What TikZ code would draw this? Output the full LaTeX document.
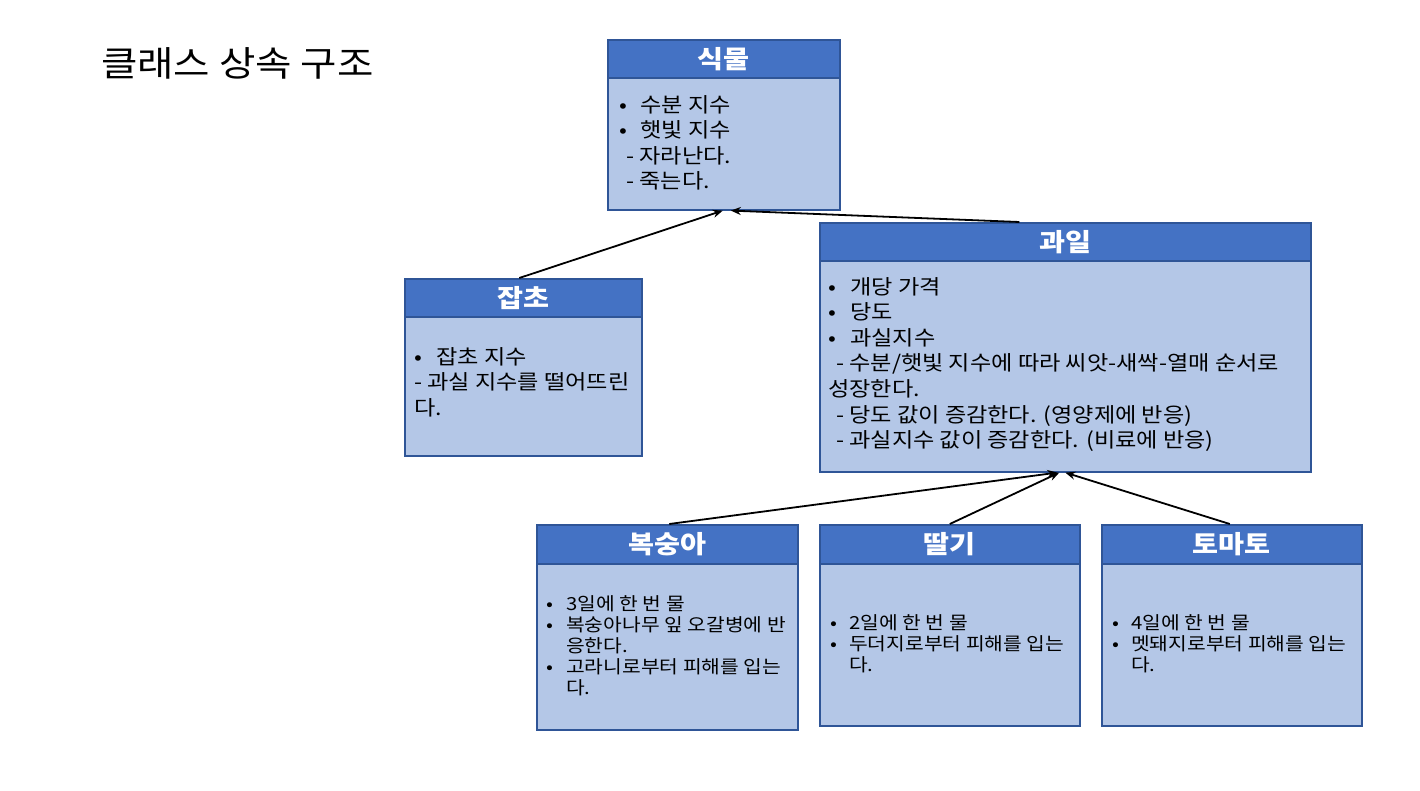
\documentclass[tikz,border=0pt]{standalone}
\usepackage{fontspec}
\setmainfont[FakeStretch=1.13]{Noto Sans CJK KR}
\usetikzlibrary{arrows.meta}
\definecolor{hdrblue}{HTML}{4472C4}
\definecolor{bodyblue}{HTML}{B4C7E7}
\definecolor{edgeblue}{HTML}{2F5597}
\newcommand\bitem[2]{\makebox[#1][l]{•}#2}
\tikzset{
  boxbody/.style={draw=edgeblue, line width=1.6pt, fill=bodyblue, anchor=north west, inner sep=0pt},
  boxhdr/.style={draw=edgeblue, line width=1.6pt, fill=hdrblue, anchor=north west, inner sep=0pt,
    text=white, font=\fontsize{25}{28}\selectfont\bfseries},
  bigtxt/.style={anchor=north west, inner sep=0pt, align=left, font=\fontsize{20.5}{25.6}\selectfont},
  smalltxt/.style={anchor=north west, inner sep=0pt, align=left, font=\fontsize{18}{21.2}\selectfont},
  conn/.style={draw=black, line width=1.8pt, -{Stealth[length=10pt,width=8pt]}},
}
\begin{document}
\begin{tikzpicture}[x=1pt,y=-1pt]
\useasboundingbox (0,0) rectangle (1420,791);
\fill[white] (0,0) rectangle (1420,791);

\node[anchor=west, inner sep=0pt, font=\fontsize{35}{40}\selectfont] (title) at (101,63) {클래스 상속 구조};

% Plant
\node[boxbody, minimum width=232pt, minimum height=170pt] (plant) at (607,39) {};
\node[boxhdr, minimum width=232pt, minimum height=38pt] (planth) at (607,39) {식물};
\node[bigtxt] (plantt) at (619,95) {\bitem{21pt}{수분 지수}\\\bitem{21pt}{햇빛 지수}\\\hspace*{7pt}- 자라난다.\\\hspace*{7pt}- 죽는다.};

% Weed
\node[boxbody, minimum width=237pt, minimum height=177pt] (weed) at (404,278) {};
\node[boxhdr, minimum width=237pt, minimum height=38pt] (weedh) at (404,278) {잡초};
\node[bigtxt] (weedt) at (414,347) {\bitem{22pt}{잡초 지수}\\- 과실 지수를 떨어뜨린\\다.};

% Fruit
\node[boxbody, minimum width=491pt, minimum height=249pt] (fruit) at (819,222) {};
\node[boxhdr, minimum width=491pt, minimum height=38pt] (fruith) at (819,222) {과일};
\node[bigtxt] (fruitt) at (828,277) {\bitem{22pt}{개당 가격}\\\bitem{22pt}{당도}\\\bitem{22pt}{과실지수}\\\hspace*{8pt}- 수분/햇빛 지수에 따라 씨앗-새싹-열매 순서로\\성장한다.\\\hspace*{8pt}- 당도 값이 증감한다. (영양제에 반응)\\\hspace*{8pt}- 과실지수 값이 증감한다. (비료에 반응)};

% Peach
\node[boxbody, minimum width=261pt, minimum height=205pt] (peach) at (536,524) {};
\node[boxhdr, minimum width=261pt, minimum height=39pt] (peachh) at (536,524) {복숭아};
\node[smalltxt] (peacht) at (546,595) {\bitem{20pt}{3일에 한 번 물}\\\bitem{20pt}{복숭아나무 잎 오갈병에 반}\\\hspace*{20pt}응한다.\\\bitem{20pt}{고라니로부터 피해를 입는}\\\hspace*{20pt}다.};

% Strawberry
\node[boxbody, minimum width=260pt, minimum height=201pt] (straw) at (819,524) {};
\node[boxhdr, minimum width=260pt, minimum height=39pt] (strawh) at (819,524) {딸기};
\node[smalltxt] (strawt) at (830,614) {\bitem{19pt}{2일에 한 번 물}\\\bitem{19pt}{두더지로부터 피해를 입는}\\\hspace*{19pt}다.};

% Tomato
\node[boxbody, minimum width=260pt, minimum height=201pt] (tomato) at (1101,524) {};
\node[boxhdr, minimum width=260pt, minimum height=39pt] (tomatoh) at (1101,524) {토마토};
\node[smalltxt] (tomatot) at (1112,614) {\bitem{19pt}{4일에 한 번 물}\\\bitem{19pt}{멧돼지로부터 피해를 입는}\\\hspace*{19pt}다.};

% Connectors
\draw[conn] ([xshift=-4pt]weedh.north) -- ([xshift=-1pt]plant.south);
\draw[conn] ([xshift=-46pt]fruith.north) -- ([xshift=7pt]plant.south);
\draw[conn] ([xshift=2pt]peachh.north) -- ([xshift=-8pt]fruit.south);
\draw[conn] (strawh.north) -- ([xshift=-6pt]fruit.south);
\draw[conn] ([xshift=-2pt]tomatoh.north) -- ([xshift=0pt]fruit.south);
\end{tikzpicture}
\end{document}
